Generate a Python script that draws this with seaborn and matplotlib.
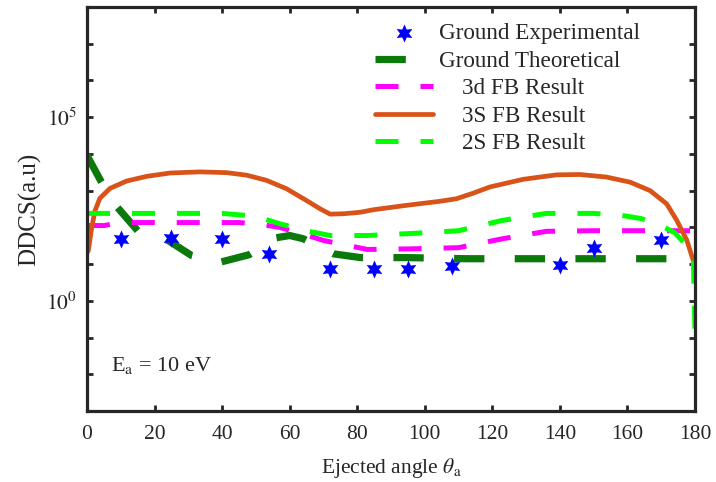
import numpy as np
import matplotlib
matplotlib.use("Agg")
import matplotlib.pyplot as plt
import seaborn as sns

# ---- data (log-scale y) ----
exp_angle = [10, 25, 40, 54, 72, 85, 95, 108, 140, 150, 170]
exp_ddcs = [49, 52, 49, 19, 7.4, 7.4, 7.4, 9.1, 9.5, 28, 44]

gt_angle = [0, 4, 9, 15, 24, 31, 39, 48, 56, 60, 64, 68, 73, 81, 95, 112, 180]
gt_ddcs = [9100, 1900, 350, 81, 44, 17, 11, 18, 52, 60, 49, 32, 19, 15, 15, 14, 14]

d3_angle = [0, 5, 10, 45, 50, 57, 64, 70, 83, 96, 110, 123, 136, 150, 180]
d3_ddcs = [112, 112, 135, 135, 126, 100, 66, 44, 25, 26, 28, 49, 78, 81, 81]

s3_angle = [0, 0.4, 1.4, 2.4, 3.8, 6.8, 11.7, 17.7, 24.6, 33.5, 41.3, 47.3, 53.2,
            59.1, 65, 69, 72, 76, 80.8, 84.8, 94.6, 104.5, 109.4, 114.3, 119.3,
            129.2, 139, 145.9, 153.8, 160.8, 166.7, 171.6, 174.6, 177.6, 179.5, 180]
s3_ddcs = [20, 23.4, 100, 288, 617, 1150, 1820, 2450, 3020, 3240, 3090, 2630, 1900,
           1120, 537, 320, 229, 235, 257, 302, 398, 513, 603, 851, 1260,
           2040, 2690, 2750, 2340, 1700, 1000, 437, 155, 44, 12.3, 11]

s2_angle = [0, 40, 50, 57, 65, 72, 83, 96, 110, 123, 136, 150, 158, 164, 170,
            174, 177, 179.5, 180]
s2_ddcs = [240, 240, 200, 126, 80, 60, 60, 68, 81, 155, 240, 240, 214, 174, 112,
           71, 36, 16, 0.126]

labels = ["Ground Experimental", "Ground Theoretical", "    3d FB Result",
          "    3S FB Result", "    2S FB Result"]

# ---- style ----
sns.set_style("ticks")
plt.rcParams['font.family'] = ['Liberation Serif', 'DejaVu Serif']
plt.rcParams['mathtext.fontset'] = 'stix'

fig = plt.figure(figsize=(7.16, 4.82), dpi=100)
ax = fig.add_axes([0.1215, 0.1473, 0.8492, 0.8382])

sns.scatterplot(x=exp_angle, y=exp_ddcs, ax=ax, marker=(6, 1, 0), s=170,
                color='#0000ff', linewidth=0, label=labels[0], zorder=5)
sns.lineplot(x=gt_angle, y=gt_ddcs, ax=ax, color='#0b7a0b', lw=5.2,
             linestyle=(0, (4.2, 4.2)), label=labels[1], errorbar=None)
sns.lineplot(x=d3_angle, y=d3_ddcs, ax=ax, color='#ff00ff', lw=3.6,
             linestyle=(0, (4.6, 4.4)), label=labels[2], errorbar=None)
sns.lineplot(x=s3_angle, y=s3_ddcs, ax=ax, color='#d95319', lw=3.4,
             label=labels[3], errorbar=None)
sns.lineplot(x=s2_angle, y=s2_ddcs, ax=ax, color='#00ff00', lw=3.6,
             linestyle=(0, (4.6, 4.4)), label=labels[4], errorbar=None)

ax.set_yscale('log')
ax.set_xlim(0, 180)
ax.set_ylim(1e-3, 1e8)
ax.set_xticks(np.arange(0, 181, 20))
yt = [10.0 ** k for k in range(-2, 8)]
ax.set_yticks(yt)
ax.set_yticklabels(['$10^{%d}$' % k if k in (0, 5) else '' for k in range(-2, 8)])
ax.yaxis.set_minor_locator(matplotlib.ticker.NullLocator())
ax.tick_params(direction='in', length=4, width=2, top=True, right=True,
               labelsize=15.5)
ax.tick_params(axis='x', pad=10)
ax.tick_params(axis='y', pad=7)

for sp in ax.spines.values():
    sp.set_linewidth(2.3)
    sp.set_color('#262626')

ax.set_xlabel(r'Ejected angle $\theta_\mathrm{a}$', fontsize=15.5, labelpad=9)
ax.set_ylabel('DDCS(a.u)', fontsize=18)
ax.text(0.04, 0.10, r'E$_\mathrm{a}$ = 10 eV', transform=ax.transAxes,
        fontsize=16)

ax.legend(frameon=False, loc='upper left', bbox_to_anchor=(0.474, 0.96),
          fontsize=16.7, handlelength=2.5, handletextpad=0.25,
          labelspacing=0.27, borderpad=0, borderaxespad=0)

fig.savefig('out.png', dpi=100)
